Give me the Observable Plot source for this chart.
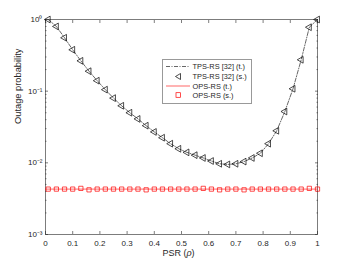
<!DOCTYPE html>
<html><head><meta charset="utf-8">
<script src="https://cdn.jsdelivr.net/npm/d3@7"></script>
<script src="https://cdn.jsdelivr.net/npm/@observablehq/plot@0.6"></script>
<style>
body{margin:0;background:#fff;font-family:"Liberation Sans",Arial,sans-serif;}
#wrap{position:relative;width:350px;height:263px;}
#legend{position:absolute;left:162px;top:59px;width:88px;height:43px;border:1px solid #999;background:#fff;font-size:7.4px;color:#262626;}
#legend svg{position:absolute;left:0;top:0;}
</style></head><body>
<div id="wrap"></div>
<script>
const psr = [0.01,0.04,0.07,0.10,0.13,0.16,0.19,0.22,0.25,0.28,0.31,0.34,0.37,0.40,0.43,0.46,0.49,0.52,0.55,0.58,0.61,0.64,0.67,0.70,0.73,0.76,0.79,0.82,0.85,0.88,0.91,0.94,0.97,1.00];
const tpsTheory = [1.0,0.80,0.556,0.378,0.265,0.19,0.14,0.105,0.080,0.0625,0.050,0.041,0.033,0.027,0.0224,0.0185,0.0157,0.014,0.0128,0.0117,0.0106,0.0097,0.0095,0.0097,0.0104,0.0117,0.0136,0.0185,0.028,0.052,0.108,0.274,0.78,1.0];
const tpsSim = [1.0,0.80,0.556,0.378,0.265,0.19,0.14,0.105,0.080,0.0625,0.050,0.041,0.033,0.027,0.0224,0.0185,0.0157,0.014,0.0128,0.0117,0.0106,0.0097,0.0095,0.0097,0.0104,0.0117,0.0136,0.0185,0.028,0.052,0.108,0.274,0.78,1.0];
const opsTheory = [0.0043,0.0043];
const opsTheoryX = [0,1];
const opsSim = [0.0043,0.0043,0.0043,0.0043,0.0044,0.0042,0.0043,0.0043,0.0043,0.0043,0.0043,0.0043,0.0042,0.0043,0.0043,0.0043,0.0043,0.0043,0.0043,0.0044,0.0043,0.0042,0.0043,0.0043,0.0042,0.0043,0.0043,0.0043,0.0043,0.0043,0.0043,0.0043,0.0044,0.0043];
const xTicks = [0,0.1,0.2,0.3,0.4,0.5,0.6,0.7,0.8,0.9,1];
const xTickLabels = ["0","0.1","0.2","0.3","0.4","0.5","0.6","0.7","0.8","0.9","1"];
const yTicks = [1e-3,1e-2,1e-1,1];
const yTickLabels = ["10\u207B\u00B3","10\u207B\u00B2","10\u207B\u00B9","10\u2070"];
const yMinor = [2e-3,3e-3,4e-3,5e-3,6e-3,7e-3,8e-3,9e-3,2e-2,3e-2,4e-2,5e-2,6e-2,7e-2,8e-2,9e-2,0.2,0.3,0.4,0.5,0.6,0.7,0.8,0.9];
const legendLabels = ["TPS-RS [32] (t.)","TPS-RS [32] (s.)","OPS-RS (t.)","OPS-RS (s.)"];
const xTitle = "PSR (\u03C1)";
const yTitle = "Outage probability";

const tps = psr.map((x,i)=>({x, t: tpsTheory[i], s: tpsSim[i], o: opsSim[i]}));
const ops = opsTheoryX.map((x,i)=>({x, y: opsTheory[i]}));
const ink = "#262626";
const xLab = new Map(xTicks.map((v,i)=>[v, xTickLabels[i]]));
const yLab = new Map(yTicks.map((v,i)=>[v, yTickLabels[i]]));
const blank = () => "";

const chart = Plot.plot({
  width: 350, height: 263,
  marginLeft: 45, marginRight: 33, marginTop: 19, marginBottom: 29,
  style: {fontFamily: '"Liberation Sans",Arial,sans-serif', fontSize: "8px", color: ink, background: "#fff"},
  x: {domain: [0,1]},
  y: {type: "log", domain: [1e-3, 1]},
  marks: [
    Plot.frame({stroke: ink, strokeWidth: 0.6}),
    Plot.axisX({anchor: "bottom", ticks: xTicks, tickFormat: d=>xLab.get(d), tickSize: -3, tickPadding: 9, label: null, strokeWidth: 0.6, fontSize: 8}),
    Plot.axisX({anchor: "top", ticks: xTicks, tickFormat: blank, tickSize: -3, label: null, strokeWidth: 0.6}),
    Plot.axisY({anchor: "left", ticks: yTicks, tickFormat: d=>yLab.get(d), tickSize: -3, tickPadding: 6, label: null, strokeWidth: 0.6, fontSize: 8}),
    Plot.axisY({anchor: "left", ticks: yMinor, tickFormat: blank, tickSize: -1.6, label: null, strokeWidth: 0.5}),
    Plot.axisY({anchor: "right", ticks: yTicks, tickFormat: blank, tickSize: -3, label: null, strokeWidth: 0.6}),
    Plot.axisY({anchor: "right", ticks: yMinor, tickFormat: blank, tickSize: -1.6, label: null, strokeWidth: 0.5}),
    Plot.line(ops, {x: "x", y: "y", stroke: "#ff0000", strokeWidth: 0.6}),
    Plot.dot(tps, {x: "x", y: "o", symbol: "square", r: 2.4, stroke: "#ff0000", strokeWidth: 0.7, fill: "none"}),
    Plot.line(tps, {x: "x", y: "t", stroke: "#000", strokeWidth: 0.6, strokeDasharray: "4,1.5,1,1.5"}),
    Plot.dot(tps, {x: "x", y: "s", symbol: "triangle", rotate: -90, r: 2.5, stroke: "#000", strokeWidth: 0.7, fill: "none"}),
    Plot.text([xTitle], {frameAnchor: "bottom", dx: -3, dy: 21, text: d=>d, fontSize: 9, fill: ink, className: "xtitle"}),
    Plot.text([yTitle], {frameAnchor: "left", dx: -27, dy: -3, rotate: -90, text: d=>d, fontSize: 9.3, fill: ink})
  ]
});
const wrap = document.getElementById("wrap");
wrap.appendChild(chart);
// italic rho in the x title
chart.querySelectorAll("text").forEach(t => {
  if (t.textContent === xTitle) {
    t.textContent = "";
    const ns = "http://www.w3.org/2000/svg";
    const a = document.createElementNS(ns, "tspan"); a.textContent = "PSR (";
    const b = document.createElementNS(ns, "tspan"); b.textContent = "\u03C1"; b.setAttribute("font-style", "italic");
    const c = document.createElementNS(ns, "tspan"); c.textContent = ")";
    t.append(a, b, c);
  }
});

// legend
const lg = document.createElement("div");
lg.id = "legend";
const rowsY = [6.5, 16.5, 26, 35];
let svg = `<svg width="88" height="43" xmlns="http://www.w3.org/2000/svg">`;
svg += `<line x1="3" x2="27" y1="${rowsY[0]}" y2="${rowsY[0]}" stroke="#000" stroke-width="0.6" stroke-dasharray="4,1.5,1,1.5"/>`;
svg += `<path d="M12.5,${rowsY[1]} L17.5,${rowsY[1]-3} L17.5,${rowsY[1]+3} Z" fill="none" stroke="#000" stroke-width="0.7"/>`;
svg += `<line x1="3" x2="27" y1="${rowsY[2]}" y2="${rowsY[2]}" stroke="#ff0000" stroke-width="0.6"/>`;
svg += `<rect x="13" y="${rowsY[3]-2.3}" width="4.6" height="4.6" fill="none" stroke="#ff0000" stroke-width="0.7"/>`;
legendLabels.forEach((t,i)=>{
  svg += `<text x="29.5" y="${rowsY[i]}" dy="0.35em" font-size="7.4" fill="${ink}" font-family="Liberation Sans, Arial, sans-serif">${t}</text>`;
});
svg += `</svg>`;
lg.innerHTML = svg;
wrap.appendChild(lg);
</script>
</body></html>
